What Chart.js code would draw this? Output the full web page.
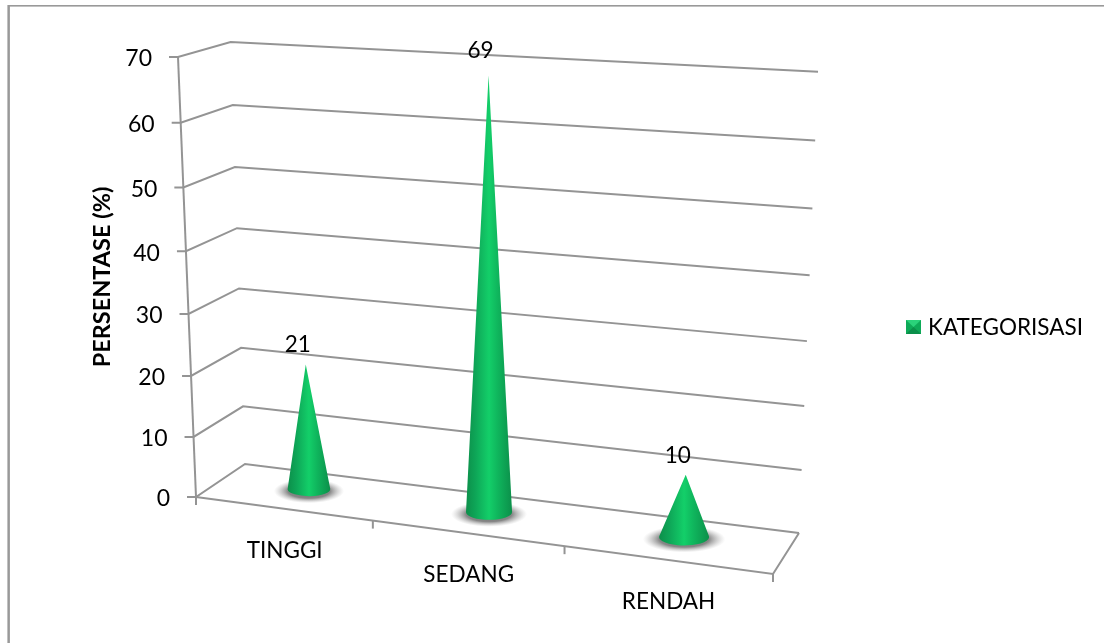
<!DOCTYPE html>
<html>
<head>
<meta charset="utf-8">
<title>Kategorisasi</title>
<script src="https://cdn.jsdelivr.net/npm/chart.js@4/dist/chart.umd.js"></script>
<style>
  html, body { margin: 0; padding: 0; background: #fff; }
  #wrap { width: 1104px; height: 643px; }
</style>
</head>
<body>
<div id="wrap"><canvas id="coneChart" width="1104" height="643"></canvas></div>
<script>
// Chart values
var categories = ['TINGGI', 'SEDANG', 'RENDAH'];
var percentages = [21, 69, 10];
var seriesName = 'KATEGORISASI';
var axisTitle = 'PERSENTASE (%)';
var axisMax = 70;
var axisStep = 10;

// Floor of the 3D box in screen pixels: front-left, front-right, back-right, back-left
var floorCorners = [[196, 497], [773, 574], [799, 533], [245, 464]];
// Verticals of the box all run away from this point
var vanishPoint = [497, 7856];
// How far the top of the box sits from vanishPoint, relative to the floor, same corner order
var riseRatio = [1.0598, 1.066, 1.063, 1.0571];
// Perspective squeeze along the value axis
var valueSqueeze = -0.0506;
// Cones sit in the middle of the depth, so they rise a little less than the walls
var coneDepth = 0.56;
var coneRise = 0.985;

var labelFont = '22.5px Lato';
var gridColor = '#949494';
var textColor = '#000';

// Unit square to floor quad
var floorMap = (function () {
  var p = floorCorners;
  var dx1 = p[1][0] - p[2][0], dx2 = p[3][0] - p[2][0];
  var dy1 = p[1][1] - p[2][1], dy2 = p[3][1] - p[2][1];
  var sx = p[0][0] - p[1][0] + p[2][0] - p[3][0];
  var sy = p[0][1] - p[1][1] + p[2][1] - p[3][1];
  var den = dx1 * dy2 - dx2 * dy1;
  var g = (sx * dy2 - dx2 * sy) / den;
  var h = (dx1 * sy - sx * dy1) / den;
  return {
    g: g,
    h: h,
    a: p[1][0] - p[0][0] + g * p[1][0],
    b: p[3][0] - p[0][0] + h * p[3][0],
    c: p[1][1] - p[0][1] + g * p[1][1],
    d: p[3][1] - p[0][1] + h * p[3][1]
  };
})();

// u along the categories, v into the depth, s up the value axis (all 0..1)
function project(u, v, s) {
  var m = floorMap;
  var w = m.g * u + m.h * v + 1;
  var fx = (m.a * u + m.b * v + floorCorners[0][0]) / w;
  var fy = (m.c * u + m.d * v + floorCorners[0][1]) / w;
  var front = riseRatio[0] + (riseRatio[1] - riseRatio[0]) * u;
  var back = riseRatio[3] + (riseRatio[2] - riseRatio[3]) * u;
  var r = front + (back - front) * v;
  var tx = vanishPoint[0] + (fx - vanishPoint[0]) * r;
  var ty = vanishPoint[1] + (fy - vanishPoint[1]) * r;
  return [fx + (tx - fx) * s, fy + (ty - fy) * s];
}

// Linear axis whose spacing tightens towards the floor, labels follow the slanted edge
class PerspectiveScale extends Chart.LinearScale {
  getPixelForDecimal(decimal) {
    var warped = (1 + valueSqueeze) * decimal / (1 + valueSqueeze * decimal);
    return super.getPixelForDecimal(warped);
  }
  _computeLabelItems(chartArea) {
    var items = super._computeLabelItems(chartArea);
    var self = this;
    items.forEach(function (item) {
      var y = item.options.translation[1];
      var s = (self.bottom - y) / (self.bottom - self.top);
      item.options.translation = [project(0, 0, s)[0] - 26, y + 2];
    });
    return items;
  }
}
PerspectiveScale.id = 'perspective';
PerspectiveScale.defaults = Chart.LinearScale.defaults;

function valueToHeight(yScale, y) {
  return (yScale.bottom - y) / (yScale.bottom - yScale.top);
}

// Bars drawn as shaded cones standing on the floor
class ConeController extends Chart.BarController {
  draw() {
    var ctx = this.chart.ctx;
    var xScale = this.chart.scales.x;
    var yScale = this.chart.scales.y;
    this._cachedMeta.data.forEach(function (bar) {
      var u = (bar.x - xScale.left) / xScale.width;
      drawCone(ctx, u, coneDepth, valueToHeight(yScale, bar.y) * coneRise);
    });
  }
}
ConeController.id = 'cone';
ConeController.defaults = Chart.BarController.defaults;
ConeController.overrides = Chart.BarController.overrides;

function drawCone(ctx, u, v, s) {
  var base = project(u, v, 0);
  var apex = project(u, v, s);
  var rx = Math.abs(project(u + 0.041, v, 0)[0] - project(u - 0.041, v, 0)[0]) / 2;
  var ry = Math.abs(project(u, v + 0.21, 0)[1] - project(u, v - 0.21, 0)[1]) / 2;
  var h = base[1] - apex[1];

  // soft shadow on the floor
  var reach = rx * 1.65;
  ctx.save();
  ctx.translate(base[0], base[1] + 2);
  ctx.scale(1, (ry + 5) / reach);
  var glow = ctx.createRadialGradient(0, 0, 0, 0, 0, reach);
  glow.addColorStop(0, 'rgba(90,90,90,0.95)');
  glow.addColorStop(0.6, 'rgba(105,105,105,0.8)');
  glow.addColorStop(0.78, 'rgba(140,140,140,0.45)');
  glow.addColorStop(1, 'rgba(180,180,180,0)');
  ctx.fillStyle = glow;
  ctx.beginPath();
  ctx.arc(0, 0, reach, 0, Math.PI * 2);
  ctx.fill();
  ctx.restore();

  // tangent points of the sides on the base ellipse
  var ty = -ry * ry / h;
  var tx = rx * Math.sqrt(1 - (ry * ry) / (h * h));
  var angle = Math.asin(ty / ry);

  var shade = ctx.createLinearGradient(base[0] - rx, 0, base[0] + rx, 0);
  shade.addColorStop(0, '#0c8f4a');
  shade.addColorStop(0.2, '#0ea557');
  shade.addColorStop(0.5, '#13cf69');
  shade.addColorStop(0.7, '#0fb45c');
  shade.addColorStop(1, '#0c8f4a');

  ctx.beginPath();
  ctx.moveTo(apex[0], apex[1]);
  ctx.lineTo(base[0] + tx, base[1] + ty);
  ctx.ellipse(base[0], base[1], rx, ry, 0, angle, Math.PI - angle);
  ctx.closePath();
  ctx.fillStyle = shade;
  ctx.fill();
}

function line(ctx, points) {
  ctx.beginPath();
  points.forEach(function (p, i) {
    if (i === 0) ctx.moveTo(p[0], p[1]);
    else ctx.lineTo(p[0], p[1]);
  });
  ctx.stroke();
}

// Walls, floor and tick marks of the box
var boxPlugin = {
  id: 'box',
  beforeDatasetsDraw: function (chart) {
    var ctx = chart.ctx;
    var yScale = chart.scales.y;
    ctx.save();
    ctx.strokeStyle = gridColor;
    ctx.lineWidth = 2;
    yScale.ticks.forEach(function (tick) {
      var s = valueToHeight(yScale, yScale.getPixelForValue(tick.value));
      var front = project(0, 0, s);
      line(ctx, [[front[0] - 9, front[1]], front, project(0, 1, s), project(1, 1, s)]);
    });
    line(ctx, [project(0, 0, 0), project(0, 0, 1)]);
    line(ctx, [project(0, 0, 0), project(1, 0, 0), project(1, 1, 0)]);
    for (var i = 0; i <= categories.length; i++) {
      var foot = project(i / categories.length, 0, 0);
      line(ctx, [foot, [foot[0], foot[1] + 8]]);
    }
    ctx.restore();
  }
};

// Value labels, category labels and the legend entry
var labelPlugin = {
  id: 'labels',
  afterDatasetsDraw: function (chart) {
    var ctx = chart.ctx;
    var xScale = chart.scales.x;
    var yScale = chart.scales.y;
    var meta = chart.getDatasetMeta(0);
    ctx.save();
    ctx.font = labelFont;
    ctx.fillStyle = textColor;
    ctx.textAlign = 'center';
    ctx.textBaseline = 'middle';
    meta.data.forEach(function (bar, i) {
      var u = (bar.x - xScale.left) / xScale.width;
      var apex = project(u, coneDepth, valueToHeight(yScale, bar.y));
      ctx.fillText(String(percentages[i]), apex[0] - 8, apex[1] - 18);
      var foot = project(u, 0, 0);
      ctx.fillText(xScale.getLabelForValue(i), foot[0] + 2, foot[1] + 42);
    });

    // pyramid shaped legend key
    var kx = 906, ky = 320, kw = 15, kh = 14;
    ctx.fillStyle = '#0eaa58';
    ctx.fillRect(kx, ky, kw, kh);
    ctx.fillStyle = '#2ad27a';
    ctx.beginPath();
    ctx.moveTo(kx, ky);
    ctx.lineTo(kx + kw, ky);
    ctx.lineTo(kx + kw / 2, ky + kh / 2);
    ctx.closePath();
    ctx.fill();
    ctx.fillStyle = '#0b8f4a';
    ctx.beginPath();
    ctx.moveTo(kx, ky + kh);
    ctx.lineTo(kx + kw, ky + kh);
    ctx.lineTo(kx + kw / 2, ky + kh / 2);
    ctx.closePath();
    ctx.fill();
    ctx.fillStyle = textColor;
    ctx.textAlign = 'left';
    ctx.fillText(chart.data.datasets[0].label, 928, 328);
    ctx.restore();
  }
};

// Frame around the chart, only the top and left edges show
var framePlugin = {
  id: 'frame',
  beforeDraw: function (chart) {
    var ctx = chart.ctx;
    ctx.save();
    ctx.fillStyle = '#fff';
    ctx.fillRect(0, 0, chart.width, chart.height);
    ctx.fillStyle = '#999';
    ctx.fillRect(8, 5, chart.width - 8, 1.6);
    ctx.fillRect(7.4, 5, 2.5, chart.height - 5);
    ctx.restore();
  }
};

Chart.register(PerspectiveScale, ConeController);

var coneChart = new Chart(document.getElementById('coneChart').getContext('2d'), {
  type: 'cone',
  data: {
    labels: categories,
    datasets: [{
      label: seriesName,
      data: percentages,
      clip: false
    }]
  },
  plugins: [framePlugin, boxPlugin, labelPlugin],
  options: {
    responsive: false,
    animation: false,
    events: [],
    layout: { padding: { top: 57, bottom: 146, left: 88, right: 285 } },
    plugins: {
      legend: { display: false },
      tooltip: { enabled: false }
    },
    scales: {
      x: { display: false },
      y: {
        type: 'perspective',
        min: 0,
        max: axisMax,
        afterFit: function (scale) { scale.width = 90; },
        ticks: {
          stepSize: axisStep,
          color: textColor,
          font: { family: 'Lato', size: 23 }
        },
        grid: { display: false },
        border: { display: false },
        title: {
          display: true,
          text: axisTitle,
          color: textColor,
          padding: 0,
          font: { family: 'Lato', size: 23.5, weight: 'bold' }
        }
      }
    }
  }
});
</script>
</body>
</html>
